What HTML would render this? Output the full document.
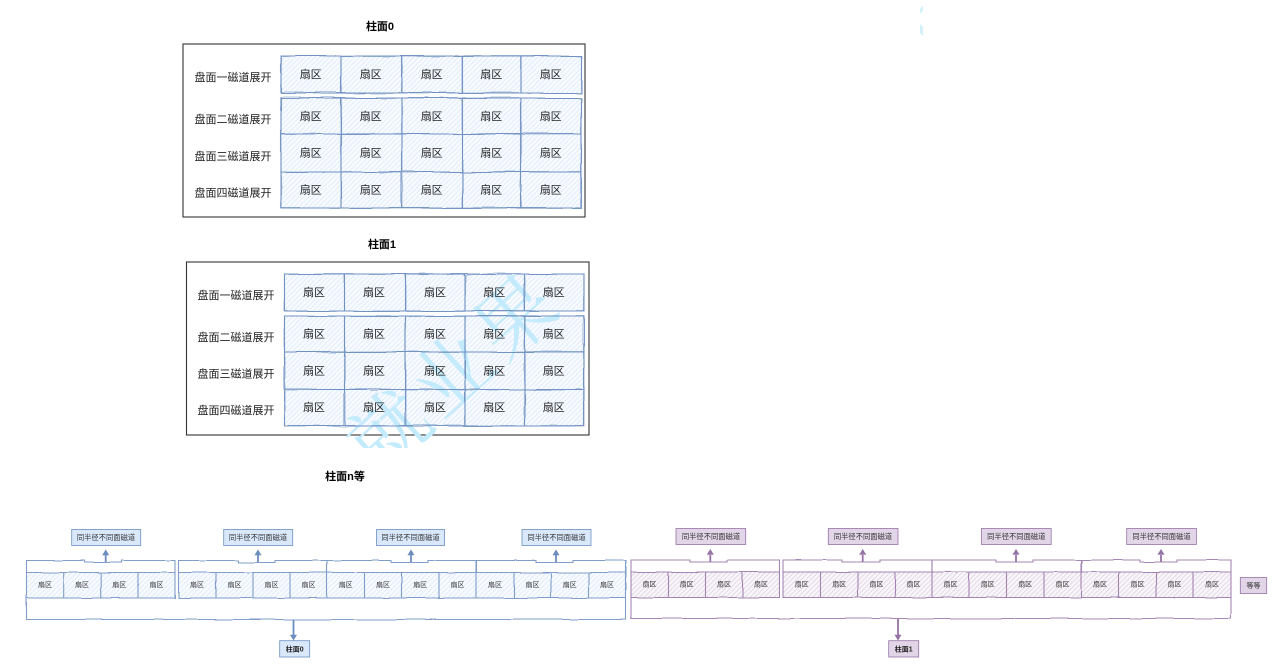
<!DOCTYPE html>
<html><head><meta charset="utf-8">
<style>
html,body{margin:0;padding:0;background:#fff;width:1281px;height:667px;overflow:hidden}
svg{display:block;filter:blur(.35px)}
text{font-family:"Liberation Sans","Noto Sans CJK SC",sans-serif;fill:#222;text-anchor:middle}
.m{font-size:11px}
.l{font-size:11px}
.t{font-size:11px;font-weight:bold;fill:#000}
.s{font-size:7px;fill:#333}
.n{font-size:7.3px;fill:#333}
.b{font-size:7px;font-weight:bold;fill:#222}
.bl{fill:none;stroke:#6c8ebf;stroke-width:1.1}
.pu{fill:none;stroke:#9673a6;stroke-width:1.1}
.wm{font-family:"Noto Serif CJK SC",serif;fill:#c4ebfb;font-size:78px}
</style></head><body>
<svg width="1281" height="667" viewBox="0 0 1281 667" xmlns="http://www.w3.org/2000/svg">
<defs>
<pattern id="hb" width="3.5" height="3.5" patternUnits="userSpaceOnUse" patternTransform="rotate(45)"><rect width="4" height="4" fill="#f8fbff"/><rect width="1.1" height="4" fill="#e3edfc"/></pattern>
<pattern id="hp" width="3.4" height="3.4" patternUnits="userSpaceOnUse" patternTransform="rotate(45)"><rect width="4" height="4" fill="#f9f7fa"/><rect width="1.2" height="4" fill="#e6dcea"/></pattern>
<filter id="r" x="-2%" y="-5%" width="104%" height="110%"><feTurbulence type="fractalNoise" baseFrequency=".018" numOctaves="2" seed="4"/><feDisplacementMap in="SourceGraphic" scale="3"/></filter>
<filter id="r2" x="-2%" y="-5%" width="104%" height="110%"><feTurbulence type="fractalNoise" baseFrequency=".025" numOctaves="2" seed="9"/><feDisplacementMap in="SourceGraphic" scale="3.5"/></filter>
<filter id="r3" x="-2%" y="-20%" width="104%" height="140%"><feTurbulence type="fractalNoise" baseFrequency=".03" numOctaves="2" seed="7"/><feDisplacementMap in="SourceGraphic" scale="2"/></filter>
<clipPath id="wc"><rect x="300" y="250" width="300" height="198"/></clipPath>
</defs>

<!-- outer frames -->
<rect x="183" y="44" width="402" height="173" fill="#fff" stroke="#333" stroke-width="1.1"/>
<rect x="186.5" y="262" width="402.5" height="173" fill="#fff" stroke="#333" stroke-width="1.1"/>

<!-- top block fill -->
<rect x="281" y="56" width="300" height="37" fill="url(#hb)"/>
<rect x="281" y="98" width="300" height="110" fill="url(#hb)"/>
<rect x="284.5" y="274" width="299" height="37" fill="url(#hb)"/>
<rect x="284.5" y="316" width="299" height="110" fill="url(#hb)"/>

<!-- bottom fills -->
<rect x="26.5" y="572.5" width="148.500" height="25.500" fill="url(#hb)"/>
<rect x="178.500" y="572.500" width="447.500" height="25.500" fill="url(#hb)"/>
<rect x="631" y="572" width="148.500" height="25.500" fill="url(#hp)"/>
<rect x="783" y="572" width="448" height="25.500" fill="url(#hp)"/>

<!-- watermark -->
<g clip-path="url(#wc)"><g transform="translate(452,374) rotate(-42)">
<text class="wm" x="-85" y="28">就</text>
<text class="wm" x="0" y="28">业</text>
<text class="wm" x="85" y="28">果</text>
</g></g>
<polygon points="923,5 923,11 920,14 920,9" fill="#d4f1fb"/>
<polygon points="920,24 923,27 923,36 920,33" fill="#d4f1fb"/>

<!-- sketch lines -->
<g class="bl" filter="url(#r)" opacity=".9">
<path d="M281 56H581V93H281ZM341 56V93M402 56V93M462 56V93M521 56V93"/>
<path d="M281 98H581V208H281ZM281 134H581M281 172H581M341 98V208M402 98V208M462 98V208M521 98V208"/>
<path d="M284.5 274H584V311H284.5ZM344.5 274V311M405.5 274V311M465 274V311M524.5 274V311"/>
<path d="M284.5 316H584V426H284.5ZM284.5 352H584M284.5 389.5H584M344.5 316V426M405.5 316V426M465 316V426M524.5 316V426"/>
</g>
<g class="bl" filter="url(#r2)" opacity=".55">
<path d="M281 56H581V93H281ZM341 56V93M402 56V93M462 56V93M521 56V93"/>
<path d="M281 98H581V208H281ZM281 134H581M281 172H581M341 98V208M402 98V208M462 98V208M521 98V208"/>
<path d="M284.5 274H584V311H284.5ZM344.5 274V311M405.5 274V311M465 274V311M524.5 274V311"/>
<path d="M284.5 316H584V426H284.5ZM284.5 352H584M284.5 389.5H584M344.5 316V426M405.5 316V426M465 316V426M524.5 316V426"/>
</g>

<!-- bottom blue structure -->
<g class="bl" filter="url(#r3)" opacity=".85">
<path d="M26.5 572.5V560.5H85V562.5H122V560.5H175V572.5"/>
<path d="M178.5 572.5V560.5H238V562.5H275V560.5H327V572.5"/>
<path d="M327 572.5V560.5H391V562.5H428V560.5H476V572.5"/>
<path d="M476.5 572.5V560.5H536V562.5H573V560.5H626V572.5"/>
<path d="M26.5 572.5H175V598H26.5ZM63.7 572.5V598M100.7 572.5V598M138 572.5V598"/>
<path d="M178.5 572.5H626V598H178.5ZM216 572.5V598M253 572.5V598M290 572.5V598M327 572.5V598M364.5 572.5V598M401.5 572.5V598M439 572.5V598M476 572.5V598M514 572.5V598M551 572.5V598M588.5 572.5V598"/>
<path d="M26.5 598V619.5H626V598"/>
</g>
<!-- bottom purple structure -->
<g class="pu" filter="url(#r3)" opacity=".85">
<path d="M631 572V560H690V562H727V560H779.5V572"/>
<path d="M783 572V560H842V562H880V560H932V572"/>
<path d="M932 572V560H996V562H1033V560H1081V572"/>
<path d="M1081.5 572V560H1140V562H1177V560H1231V572"/>
<path d="M631 572H779.5V597.5H631ZM668 572V597.5M705.5 572V597.5M742.5 572V597.5"/>
<path d="M783 572H1231V597.5H783ZM820.5 572V597.5M858 572V597.5M895 572V597.5M932 572V597.5M969 572V597.5M1006.5 572V597.5M1044 572V597.5M1081 572V597.5M1119 572V597.5M1156 572V597.5M1193 572V597.5"/>
<path d="M631 597.5V618.5H1231V597.5"/>
</g>

<!-- arrows -->
<g stroke="#6c8ebf" stroke-width="1.8" fill="#6c8ebf">
<path d="M105.7 562V555M258 562V555M411 562V555M556 562V555M293.5 620V635"/>
<path d="M105.7 550l-3 5h6zM258 550l-3 5h6zM411 550l-3 5h6zM556 550l-3 5h6zM293.5 640l-3-5h6z" stroke-width=".6"/>
</g>
<g stroke="#9673a6" stroke-width="1.8" fill="#9673a6">
<path d="M710.3 562V555M862.7 562V555M1016 562V555M1161 562V555M898 619V635"/>
<path d="M710.3 549.5l-3 5h6zM862.7 549.5l-3 5h6zM1016 549.5l-3 5h6zM1161 549.5l-3 5h6zM898 640l-3-5h6z" stroke-width=".6"/>
</g>

<!-- label boxes -->
<g fill="#dae8fc" stroke="#6c8ebf" stroke-width=".8">
<rect x="71.7" y="529.5" width="69" height="16"/>
<rect x="223.7" y="529.5" width="69" height="16"/>
<rect x="376.5" y="529.5" width="68" height="16"/>
<rect x="522" y="529.5" width="69" height="16"/>
<rect x="279.7" y="640.7" width="30" height="16.3"/>
</g>
<g fill="#e1d5e7" stroke="#9673a6" stroke-width=".8">
<rect x="676" y="528.5" width="69.7" height="16"/>
<rect x="828.3" y="528.5" width="69.7" height="16"/>
<rect x="981.5" y="528.5" width="69.7" height="16"/>
<rect x="1126.7" y="528.5" width="69.7" height="16"/>
<rect x="1240.3" y="577.5" width="26.4" height="16"/>
<rect x="888.7" y="640.7" width="30" height="16.3"/>
</g>

<!-- titles -->
<text class="t" x="380" y="30">柱面0</text>
<text class="t" x="382" y="248">柱面1</text>
<text class="t" x="345" y="480">柱面n等</text>

<!-- side labels -->
<text class="l" x="233" y="81">盘面一磁道展开</text>
<text class="l" x="233" y="123">盘面二磁道展开</text>
<text class="l" x="233" y="160">盘面三磁道展开</text>
<text class="l" x="233" y="196.500">盘面四磁道展开</text>
<text class="l" x="236" y="299">盘面一磁道展开</text>
<text class="l" x="236" y="341">盘面二磁道展开</text>
<text class="l" x="236" y="377.500">盘面三磁道展开</text>
<text class="l" x="236" y="414">盘面四磁道展开</text>

<!-- top cells -->
<g class="m">
<text class="m" x="310.700" y="78">扇区</text><text class="m" x="370.700" y="78">扇区</text><text class="m" x="431.700" y="78">扇区</text><text class="m" x="491.300" y="78">扇区</text><text class="m" x="550.700" y="78">扇区</text>
<text class="m" x="310.700" y="120">扇区</text><text class="m" x="370.700" y="120">扇区</text><text class="m" x="431.700" y="120">扇区</text><text class="m" x="491.300" y="120">扇区</text><text class="m" x="550.700" y="120">扇区</text>
<text class="m" x="310.700" y="156.700">扇区</text><text class="m" x="370.700" y="156.700">扇区</text><text class="m" x="431.700" y="156.700">扇区</text><text class="m" x="491.300" y="156.700">扇区</text><text class="m" x="550.700" y="156.700">扇区</text>
<text class="m" x="310.700" y="193.300">扇区</text><text class="m" x="370.700" y="193.300">扇区</text><text class="m" x="431.700" y="193.300">扇区</text><text class="m" x="491.300" y="193.300">扇区</text><text class="m" x="550.700" y="193.300">扇区</text>
<text class="m" x="314" y="296">扇区</text><text class="m" x="374" y="296">扇区</text><text class="m" x="435" y="296">扇区</text><text class="m" x="494.300" y="296">扇区</text><text class="m" x="553.700" y="296">扇区</text>
<text class="m" x="314" y="337.700">扇区</text><text class="m" x="374" y="337.700">扇区</text><text class="m" x="435" y="337.700">扇区</text><text class="m" x="494.300" y="337.700">扇区</text><text class="m" x="553.700" y="337.700">扇区</text>
<text class="m" x="314" y="374.300">扇区</text><text class="m" x="374" y="374.300">扇区</text><text class="m" x="435" y="374.300">扇区</text><text class="m" x="494.300" y="374.300">扇区</text><text class="m" x="553.700" y="374.300">扇区</text>
<text class="m" x="314" y="411">扇区</text><text class="m" x="374" y="411">扇区</text><text class="m" x="435" y="411">扇区</text><text class="m" x="494.300" y="411">扇区</text><text class="m" x="553.700" y="411">扇区</text>
</g>

<!-- bottom cells -->
<text class="s" x="45" y="587">扇区</text><text class="s" x="82" y="587">扇区</text><text class="s" x="119.300" y="587">扇区</text><text class="s" x="156.500" y="587">扇区</text>
<text class="s" x="197" y="587">扇区</text><text class="s" x="234.500" y="587">扇区</text><text class="s" x="271.500" y="587">扇区</text><text class="s" x="308.500" y="587">扇区</text>
<text class="s" x="345.700" y="587">扇区</text><text class="s" x="383" y="587">扇区</text><text class="s" x="420.200" y="587">扇区</text><text class="s" x="457.500" y="587">扇区</text>
<text class="s" x="495" y="587">扇区</text><text class="s" x="532.500" y="587">扇区</text><text class="s" x="569.700" y="587">扇区</text><text class="s" x="607" y="587">扇区</text>
<text class="s" x="649.500" y="586.500">扇区</text><text class="s" x="686.700" y="586.500">扇区</text><text class="s" x="724" y="586.500">扇区</text><text class="s" x="761" y="586.500">扇区</text>
<text class="s" x="801.700" y="586.500">扇区</text><text class="s" x="839.200" y="586.500">扇区</text><text class="s" x="876.500" y="586.500">扇区</text><text class="s" x="913.500" y="586.500">扇区</text>
<text class="s" x="950.500" y="586.500">扇区</text><text class="s" x="987.700" y="586.500">扇区</text><text class="s" x="1025.200" y="586.500">扇区</text><text class="s" x="1062.500" y="586.500">扇区</text>
<text class="s" x="1100" y="586.500">扇区</text><text class="s" x="1137.500" y="586.500">扇区</text><text class="s" x="1174.500" y="586.500">扇区</text><text class="s" x="1212" y="586.500">扇区</text>

<!-- box labels -->
<text class="n" x="106" y="540">同半径不同面磁道</text>
<text class="n" x="258" y="540">同半径不同面磁道</text>
<text class="n" x="410.500" y="540">同半径不同面磁道</text>
<text class="n" x="556.500" y="540">同半径不同面磁道</text>
<text class="n" x="711" y="539">同半径不同面磁道</text>
<text class="n" x="863" y="539">同半径不同面磁道</text>
<text class="n" x="1016.300" y="539">同半径不同面磁道</text>
<text class="n" x="1161.500" y="539">同半径不同面磁道</text>
<text class="s" x="1253.500" y="588">等等</text>
<text class="b" x="294.700" y="651.500">柱面0</text>
<text class="b" x="903.700" y="651.500">柱面1</text>
</svg>
</body></html>
